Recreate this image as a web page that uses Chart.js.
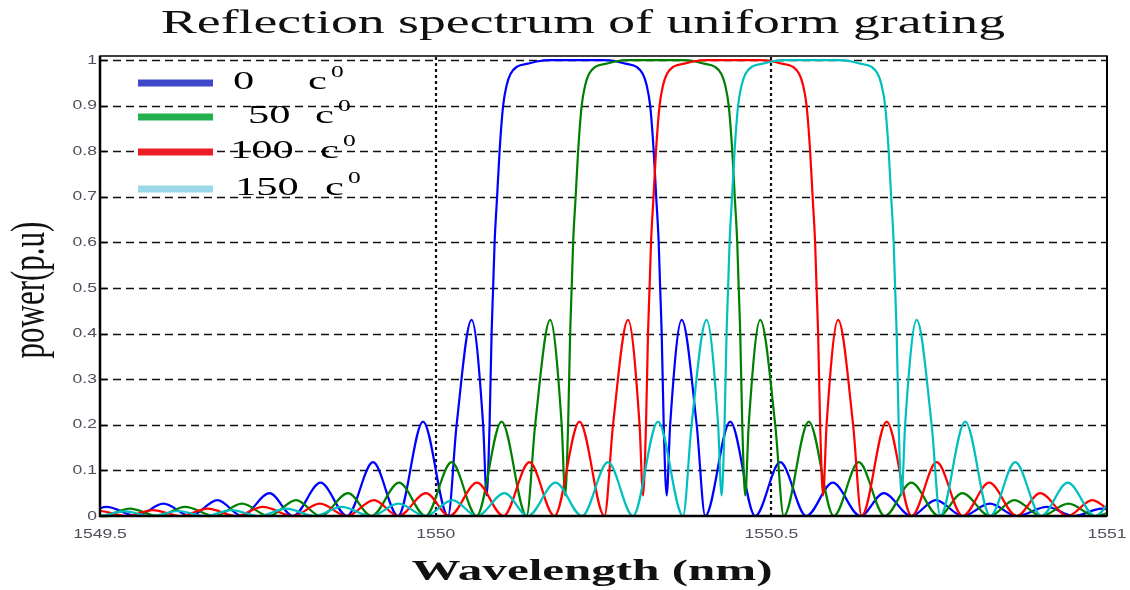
<!DOCTYPE html>
<html lang="en">
<head>
<meta charset="UTF-8">
<title>Reflection spectrum of uniform grating</title>
<script src="https://cdn.jsdelivr.net/npm/chart.js"></script>
<style>
    body { margin: 0; background: #fff; }
    #spectrum { display: block; }
</style>
</head>
<body>
<canvas id="spectrum" width="1130" height="590"></canvas>
<script>
// grating temperatures (legend)
const temperatures = ['0', '50', '100', '150'];
// centre of each main reflection lobe, nm
const centreWavelength = [1550.210, 1550.327, 1550.443, 1550.560];

// reflection curve of the grating: offset from lobe centre (nm) and power (p.u)
const detuning = [
    -1.1043, -1.0641, -1.0238, -0.9836, -0.9434, -0.9031, -0.8644, -0.8227, -0.7824, -0.7407,
    -0.7004, -0.6557, -0.6155, -0.5753, -0.5350, -0.4985, -0.4575, -0.4225, -0.3815, -0.3420,
    -0.3033, -0.2660, -0.2288, -0.1915, -0.1788, -0.1565,
    -0.1393, -0.1341, -0.1297, -0.1267, -0.1244, -0.1222, -0.1185, -0.1148,
    -0.1095, -0.1043, -0.0984, -0.0894, -0.0700, -0.0596, -0.0373, 0,
    0.0373, 0.0596, 0.0700, 0.0894, 0.0984, 0.1043, 0.1095, 0.1148, 0.1185, 0.1222,
    0.1244, 0.1267, 0.1297, 0.1341, 0.1393, 0.1565,
    0.1788, 0.1915, 0.2288, 0.2660, 0.3033, 0.3420, 0.3815, 0.4225,
    0.4575, 0.4985, 0.5350, 0.5753, 0.6155, 0.6557, 0.7004, 0.7407, 0.7824, 0.8227,
    0.8644, 0.9031, 0.9434, 0.9836, 1.0238, 1.0641, 1.1043
];
const power = [
    0.009, 0, 0.010, 0, 0.011, 0, 0.013, 0, 0.016, 0,
    0.020, 0, 0.027, 0, 0.035, 0, 0.050, 0, 0.073, 0,
    0.118, 0, 0.207, 0, 0.20, 0.430,
    0.20, 0.045, 0.20, 0.40, 0.50, 0.60, 0.70, 0.80,
    0.90, 0.945, 0.970, 0.985, 0.993, 0.997, 1.0, 1.0,
    1.0, 0.997, 0.993, 0.985, 0.970, 0.945, 0.90, 0.80, 0.70, 0.60,
    0.50, 0.40, 0.20, 0.045, 0.20, 0.430,
    0.20, 0, 0.207, 0, 0.118, 0, 0.073, 0,
    0.050, 0, 0.035, 0, 0.027, 0, 0.020, 0, 0.016, 0,
    0.013, 0, 0.011, 0, 0.010, 0, 0.009
];

// axis ticks
const xTicks = [1549.5, 1550, 1550.5, 1551];
const xTickLabels = ['1549.5', '1550', '1550.5', '1551'];
const yTicks = [0, 0.1, 0.2, 0.3, 0.4, 0.5, 0.6, 0.7, 0.8, 0.9, 1];
const yTickLabels = ['0', '0.1', '0.2', '0.3', '0.4', '0.5', '0.6', '0.7', '0.8', '0.9', '1'];

// styling
const lineColors = ['#0000ff', '#008000', '#ff0000', '#00bfbf'];
const legendColors = ['#3f48cc', '#22b14c', '#ed1c24', '#99d9ea'];
const legendBarY = [83, 117, 152, 189];
const legendNumX = [233, 248, 230, 235];
const legendUnitX = [308, 315, 320, 325];
const serif = '"Liberation Serif", "Times New Roman", serif';
const sans = '"Liberation Sans", Arial, sans-serif';

// text drawn wider than the font, like the rest of the figure
function wideText(ctx, text, x, y, sx, align, baseline) {
    ctx.save();
    ctx.translate(x, y);
    ctx.scale(sx, 1);
    ctx.textAlign = align;
    ctx.textBaseline = baseline;
    ctx.fillText(text, 0, 0);
    ctx.restore();
}

function fitText(ctx, text, cx, y, width) {
    const w = ctx.measureText(text).width;
    wideText(ctx, text, cx, y, width / w, 'center', 'alphabetic');
}

const background = {
    id: 'background',
    beforeDraw(chart) {
        const ctx = chart.ctx;
        ctx.save();
        ctx.fillStyle = '#fff';
        ctx.fillRect(0, 0, chart.width, chart.height);
        ctx.restore();
    }
};

const gridLines = {
    id: 'gridLines',
    beforeDatasetsDraw(chart) {
        const { ctx, chartArea: a, scales: { x, y } } = chart;
        ctx.save();
        // dashed horizontal grid
        ctx.strokeStyle = '#111';
        ctx.lineWidth = 1.4;
        ctx.setLineDash([8, 5]);
        yTicks.forEach(v => {
            if (v === 0) return;
            const py = Math.round(y.getPixelForValue(v)) + 0.5;
            ctx.beginPath();
            ctx.moveTo(a.left, py);
            ctx.lineTo(a.right, py);
            ctx.stroke();
        });
        // dotted vertical grid, inner ticks only
        ctx.lineWidth = 2.2;
        ctx.setLineDash([3, 3]);
        xTicks.forEach((v, i) => {
            if (i === 0 || i === xTicks.length - 1) return;
            const px = Math.round(x.getPixelForValue(v));
            ctx.beginPath();
            ctx.moveTo(px, a.bottom);
            ctx.lineTo(px, a.top);
            ctx.stroke();
        });
        ctx.restore();
    }
};

const decorations = {
    id: 'decorations',
    afterDatasetsDraw(chart) {
        const { ctx, chartArea: a, scales: { x, y } } = chart;
        ctx.save();

        // axes box
        ctx.setLineDash([]);
        ctx.strokeStyle = '#000';
        ctx.lineWidth = 1.5;
        ctx.strokeRect(a.left, a.top, a.right - a.left, a.bottom - a.top);
        ctx.lineWidth = 2.5;
        ctx.beginPath();
        ctx.moveTo(a.left, a.top);
        ctx.lineTo(a.left, a.bottom);
        ctx.lineTo(a.right, a.bottom);
        ctx.stroke();
        ctx.lineWidth = 2;
        ctx.beginPath();
        ctx.moveTo(a.right, a.top);
        ctx.lineTo(a.right, a.bottom);
        ctx.stroke();

        // inward y ticks
        ctx.lineWidth = 1.5;
        yTicks.forEach(v => {
            const py = Math.round(y.getPixelForValue(v)) + 0.5;
            ctx.beginPath();
            ctx.moveTo(a.left, py);
            ctx.lineTo(a.left + 7, py);
            ctx.stroke();
        });

        // tick labels
        ctx.fillStyle = '#4e4e5c';
        ctx.font = '13px ' + sans;
        yTicks.forEach((v, i) => {
            wideText(ctx, yTickLabels[i], a.left - 3, y.getPixelForValue(v), 1.35, 'right', 'middle');
        });
        xTicks.forEach((v, i) => {
            wideText(ctx, xTickLabels[i], x.getPixelForValue(v), a.bottom + 18, 1.35, 'center', 'middle');
        });

        // title and axis titles
        ctx.fillStyle = '#111';
        ctx.font = '33px ' + serif;
        fitText(ctx, 'Reflection spectrum of uniform grating', 583, 33, 844);
        ctx.font = 'bold 30px ' + serif;
        fitText(ctx, 'Wavelength (nm)', 592, 580, 361);

        ctx.save();
        ctx.translate(44, 290);
        ctx.scale(1.6, 1);
        ctx.rotate(-Math.PI / 2);
        ctx.font = '31px ' + serif;
        ctx.textAlign = 'center';
        ctx.textBaseline = 'alphabetic';
        ctx.fillText('power(p.u)', 0, 0);
        ctx.restore();

        // legend
        temperatures.forEach((t, i) => {
            const by = legendBarY[i];
            ctx.strokeStyle = legendColors[i];
            ctx.lineWidth = 7;
            ctx.beginPath();
            ctx.moveTo(138, by);
            ctx.lineTo(213, by);
            ctx.stroke();

            ctx.fillStyle = '#000';
            ctx.font = '25px ' + serif;
            wideText(ctx, t, legendNumX[i], by + 6, 1.7, 'left', 'alphabetic');
            wideText(ctx, 'c', legendUnitX[i], by + 6, 1.7, 'left', 'alphabetic');
            ctx.font = '17px ' + serif;
            wideText(ctx, '0', legendUnitX[i] + 23, by - 6, 1.5, 'left', 'alphabetic');
        });

        ctx.restore();
    }
};

new Chart(document.getElementById('spectrum'), {
    type: 'line',
    data: {
        datasets: temperatures.map((t, k) => ({
            label: t + ' c\u2070',
            data: detuning.map((d, i) => ({ x: centreWavelength[k] + d, y: power[i] })),
            borderColor: lineColors[k],
            borderWidth: 2.2,
            pointRadius: 0,
            fill: false,
            cubicInterpolationMode: 'monotone',
            order: temperatures.length - 1 - k
        }))
    },
    options: {
        responsive: false,
        animation: false,
        devicePixelRatio: 1,
        layout: { padding: { left: 0, top: 56, right: 23, bottom: 0 } },
        scales: {
            x: {
                type: 'linear',
                min: 1549.5,
                max: 1551,
                ticks: { display: false },
                grid: { display: false },
                border: { display: false },
                afterFit(scale) { scale.height = 74; }
            },
            y: {
                min: 0,
                max: 1.009,
                ticks: { display: false },
                grid: { display: false },
                border: { display: false },
                afterFit(scale) { scale.width = 100; }
            }
        },
        plugins: {
            legend: { display: false },
            tooltip: { enabled: false },
            title: { display: false }
        }
    },
    plugins: [background, gridLines, decorations]
});
</script>
</body>
</html>
